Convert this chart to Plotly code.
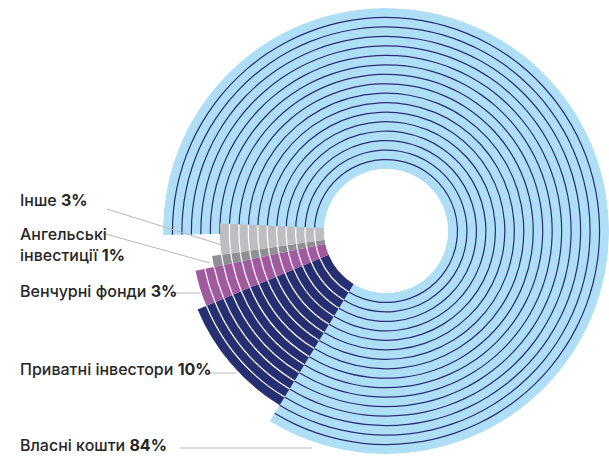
import plotly.graph_objects as go

# ---- data ----
categories = ["Власні кошти", "Приватні інвестори", "Венчурні фонди", "Ангельські<br>інвестиції", "Інше"]
shares = [84, 10, 3, 1, 3]            # percent
rings = [17, 15, 14, 12, 11]          # number of concentric rings drawn for each share
fill_colors = ["#aedff6", "#272f73", "#a15aa0", "#8e9093", "#bdbec1"]
ring_line_colors = ["#2b2f78", "#ffffff", "#ffffff", "#ffffff", "#ffffff"]

W, H = 609, 456
DEG_PER_PCT = 3.6
LINE_T = 0.13

# angular placement computed from the shares
widths = [s * DEG_PER_PCT for s in shares]
centers = []
acc = 0.0
for w in widths:
    centers.append(acc + w / 2)
    acc += w

fig = go.Figure()
for i in range(len(shares)):
    fig.add_trace(go.Barpolar(
        r=[rings[i]], theta=[centers[i]], width=[widths[i]], base=[0],
        marker=dict(color=fill_colors[i], line=dict(width=0)),
        hoverinfo="skip", name=categories[i]))
    seps = list(range(1, rings[i]))
    fig.add_trace(go.Barpolar(
        r=[LINE_T] * len(seps), theta=[centers[i]] * len(seps),
        width=[widths[i]] * len(seps), base=[k - LINE_T / 2 for k in seps],
        marker=dict(color=ring_line_colors[i], line=dict(width=0)),
        hoverinfo="skip", showlegend=False))

# polar placement in pixels
cx, cy, R = 386, 231, 223
fig.update_layout(
    width=W, height=H,
    margin=dict(l=0, r=0, t=0, b=0),
    paper_bgcolor="white",
    showlegend=False,
    polar=dict(
        domain=dict(x=[(cx - R) / W, (cx + R) / W], y=[(H - cy - R) / H, (H - cy + R) / H]),
        bgcolor="white",
        hole=0.278,
        barmode="overlay",
        radialaxis=dict(visible=False, range=[0, max(rings)]),
        angularaxis=dict(visible=False, rotation=181, direction="clockwise"),
    ),
)

# labels (left side) with leader lines
label_y = [444.5, 369, 291, 244, 200]
leaders = [
    [(180, 448), (312, 448)],
    [(210, 373), (236, 373)],
    [(175, 293), (200, 293)],
    [(102, 233), (210, 263)],
    [(107, 209), (222, 245)],
]
FONT = "Inter"
for i in range(len(shares)):
    fig.add_annotation(
        x=18 / W, y=1 - label_y[i] / H, xref="paper", yref="paper",
        xanchor="left", yanchor="middle", align="left", showarrow=False,
        text=f"{categories[i]} <b>{shares[i]}%</b>",
        font=dict(family=FONT, size=16, color="#262626", weight=500))
    (x0, y0), (x1, y1) = leaders[i]
    fig.add_shape(type="line", xref="paper", yref="paper",
                  x0=x0 / W, y0=1 - y0 / H, x1=x1 / W, y1=1 - y1 / H,
                  line=dict(color="#b8b8b8", width=1))

fig.write_html(
    "out.html",
    config={"displayModeBar": False},
    post_script="document.body.style.margin='0';document.body.style.padding='0';document.body.style.overflow='hidden';",
)
